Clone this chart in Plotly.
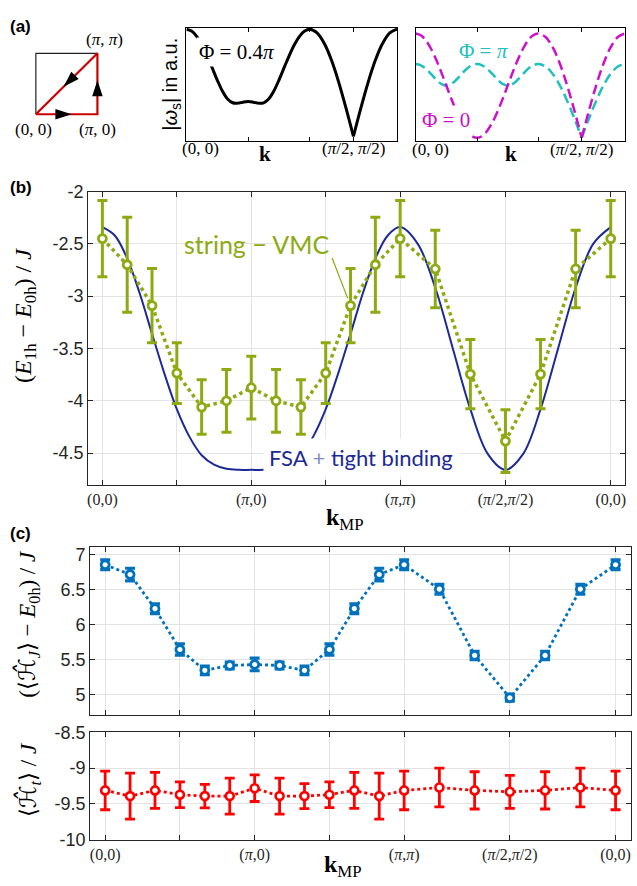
import numpy as np
import plotly.graph_objects as go

# ---------------- data ----------------
# momentum path (units of pi): (0,0)->(pi,0)->(pi,pi)->(pi/2,pi/2)->(0,0)
CURVE_K = ([(j / 12, 0) for j in range(13)] + [(1, j / 12) for j in range(1, 13)]
           + [(1 - j / 12, 1 - j / 12) for j in range(1, 7)]
           + [(0.5 - j / 12, 0.5 - j / 12) for j in range(1, 7)])
MC_K = ([(j / 6, 0) for j in range(7)] + [(1, j / 6) for j in range(1, 7)]
        + [(1 - j / 6, 1 - j / 6) for j in range(1, 4)]
        + [(0.5 - j / 6, 0.5 - j / 6) for j in range(1, 4)])

# panel (a): |omega_s| in a.u.
omega_04pi = [1.902, 1.870, 1.775, 1.626, 1.435, 1.219, 1.000, 0.805, 0.664, 0.597, 0.591, 0.608, 0.618,
              0.608, 0.591, 0.597, 0.664, 0.805, 1.000, 1.219, 1.435, 1.626, 1.775, 1.870, 1.902,
              1.837, 1.647, 1.345, 0.951, 0.492, 0.000,
              0.492, 0.951, 1.345, 1.647, 1.837, 1.902]
omega_0 = [2.000, 1.966, 1.866, 1.707, 1.500, 1.259, 1.000, 0.741, 0.500, 0.293, 0.134, 0.034, 0.000,
           0.034, 0.134, 0.293, 0.500, 0.741, 1.000, 1.259, 1.500, 1.707, 1.866, 1.966, 2.000,
           1.932, 1.732, 1.414, 1.000, 0.518, 0.000,
           0.518, 1.000, 1.414, 1.732, 1.932, 2.000]
omega_pi = [1.414, 1.390, 1.323, 1.225, 1.118, 1.033, 1.000, 1.033, 1.118, 1.225, 1.323, 1.390, 1.414,
            1.390, 1.323, 1.225, 1.118, 1.033, 1.000, 1.033, 1.118, 1.225, 1.323, 1.390, 1.414,
            1.366, 1.225, 1.000, 0.707, 0.366, 0.000,
            0.366, 0.707, 1.000, 1.225, 1.366, 1.414]

# panel (b)
fsa_tb = [-2.34, -2.42, -2.64, -2.97, -3.36, -3.74, -4.08, -4.34, -4.52, -4.61, -4.65, -4.66, -4.66,
          -4.66, -4.65, -4.61, -4.52, -4.34, -4.08, -3.74, -3.36, -2.97, -2.64, -2.42, -2.34,
          -2.50, -2.92, -3.50, -4.08, -4.51, -4.66,
          -4.51, -4.08, -3.50, -2.92, -2.50, -2.34]
vmc_E = [-2.45, -2.70, -3.09, -3.735, -4.06, -4.00, -3.875, -4.00, -4.06, -3.735, -3.09, -2.70, -2.45,
         -2.74, -3.745, -4.385, -3.745, -2.74, -2.45]
vmc_err = [0.365, 0.455, 0.355, 0.29, 0.26, 0.30, 0.30, 0.30, 0.26, 0.29, 0.355, 0.455, 0.365,
           0.37, 0.33, 0.30, 0.33, 0.37, 0.365]

# panel (c)
HJ = [6.86, 6.72, 6.23, 5.645, 5.346, 5.416, 5.43, 5.416, 5.346, 5.645, 6.23, 6.72, 6.86,
      6.51, 5.56, 4.953, 5.56, 6.51, 6.86]
HJ_err = [0.07, 0.09, 0.07, 0.08, 0.06, 0.05, 0.09, 0.05, 0.06, 0.08, 0.07, 0.09, 0.07,
          0.07, 0.06, 0.05, 0.06, 0.07, 0.07]
Ht = [-9.31, -9.39, -9.31, -9.37, -9.39, -9.39, -9.28, -9.39, -9.39, -9.37, -9.31, -9.39, -9.31,
      -9.27, -9.31, -9.33, -9.31, -9.27, -9.31]
Ht_err = [0.27, 0.32, 0.25, 0.18, 0.165, 0.25, 0.185, 0.25, 0.175, 0.18, 0.25, 0.32, 0.27,
          0.27, 0.26, 0.23, 0.26, 0.27, 0.27]

# tick labels
PATH_TICK_TEXT = ["(0,0)", "(<i>π</i>,0)", "(<i>π</i>,<i>π</i>)",
                  "(<i>π</i>/2,<i>π</i>/2)", "(0,0)"]
B_YTICKS = [-4.5, -4, -3.5, -3, -2.5, -2]
B_YTEXT = ["-4.5", "-4", "-3.5", "-3", "-2.5", "-2"]
C1_YTICKS = [5, 5.5, 6, 6.5, 7]
C1_YTEXT = ["5", "5.5", "6", "6.5", "7"]
C2_YTICKS = [-10, -9.5, -9, -8.5]
C2_YTEXT = ["-10", "-9.5", "-9", "-8.5"]

# BZ diagram
SQ_X, SQ_Y = [0, 0, 1], [0, 1, 1]
PATH_X, PATH_Y = [0, 1, 1, 0], [0, 0, 1, 0]
ARROW_X, ARROW_Y, ARROW_ANG = [0.58, 1.0, 0.45], [0.0, 0.56, 0.45], [90, 0, 225]


# ---------------- helpers ----------------
def path_pos(kpts):
    k = np.array(kpts, dtype=float)
    d = np.hypot(np.diff(k[:, 0]), np.diff(k[:, 1]))
    return np.concatenate([[0], np.cumsum(d)])


XC = path_pos(CURVE_K)
XM = path_pos(MC_K)
L = XC[-1]
VERT = [0, 1, 2, 2 + np.sqrt(2) / 2, L]        # labelled ticks
MID = [0.5, 1.5]                                # unlabelled ticks
VERT_A = [0, 1, 2, 2 + np.sqrt(2) / 2, L]
TIP = 30  # index of (pi/2,pi/2) in curve samples

W, H = 637, 886
def PX(x): return x / W
def PY(y): return 1 - y / H
def DX(a, b): return [a / W, b / W]
def DY(top, bot): return [1 - bot / H, 1 - top / H]

SERIF = "Liberation Serif"
SANS = "Liberation Sans"
AX = "#262626"
GRID = "#e3e3e3"
GREEN = "#8DAA12"
NAVY = "#1B2A96"
CBLUE = "#0072BD"
RED = "#FF0000"
MAG = "#CC10CC"
CYAN = "#20C0C0"

fig = go.Figure()

# (a) left: BZ diagram
fig.add_trace(go.Scatter(x=SQ_X, y=SQ_Y, mode="lines", line=dict(color="#222", width=1.2),
                         xaxis="x6", yaxis="y6"))
fig.add_trace(go.Scatter(x=PATH_X, y=PATH_Y, mode="lines", line=dict(color="#CC0000", width=2.2),
                         xaxis="x6", yaxis="y6"))
fig.add_trace(go.Scatter(x=ARROW_X, y=ARROW_Y, mode="markers",
                         marker=dict(symbol="arrow", size=17, angle=ARROW_ANG, color="black",
                                     line=dict(width=0)),
                         xaxis="x6", yaxis="y6", cliponaxis=False))

# (a) middle
for sl in (slice(0, TIP + 1), slice(TIP, None)):
    fig.add_trace(go.Scatter(x=XC[sl], y=omega_04pi[sl], mode="lines",
                             line=dict(color="black", width=3, shape="spline"),
                             xaxis="x4", yaxis="y4"))
# (a) right
for data, col in ((omega_pi, CYAN), (omega_0, MAG)):
    for sl in (slice(0, TIP + 1), slice(TIP, None)):
        fig.add_trace(go.Scatter(x=XC[sl], y=data[sl], mode="lines",
                                 line=dict(color=col, width=2.5, shape="spline", dash="10px,5px"),
                                 xaxis="x5", yaxis="y5"))

# (b)
fig.add_trace(go.Scatter(x=XC, y=fsa_tb, mode="lines", line=dict(color=NAVY, width=2, shape="spline"),
                         xaxis="x", yaxis="y"))
fig.add_trace(go.Scatter(x=XM, y=vmc_E, mode="lines+markers",
                         line=dict(color=GREEN, width=3.5, dash="dot"),
                         marker=dict(symbol="circle", size=8, color="white", line=dict(color=GREEN, width=2.8)),
                         error_y=dict(type="data", array=vmc_err, color=GREEN, thickness=3, width=5),
                         xaxis="x", yaxis="y"))
# (c) upper
fig.add_trace(go.Scatter(x=XM, y=HJ, mode="lines+markers",
                         line=dict(color=CBLUE, width=2.8, dash="dot"),
                         marker=dict(symbol="circle", size=8, color="white", line=dict(color=CBLUE, width=2.8)),
                         error_y=dict(type="data", array=HJ_err, color=CBLUE, thickness=3.2, width=5),
                         xaxis="x2", yaxis="y2"))
# (c) lower
fig.add_trace(go.Scatter(x=XM, y=Ht, mode="lines+markers",
                         line=dict(color=RED, width=2.8, dash="dot"),
                         marker=dict(symbol="circle", size=8, color="white", line=dict(color=RED, width=2.6)),
                         error_y=dict(type="data", array=Ht_err, color=RED, thickness=2.8, width=5),
                         xaxis="x3", yaxis="y3"))


def boxaxis(**kw):
    d = dict(showline=True, linecolor=AX, linewidth=1, mirror="ticks", ticks="inside",
             ticklen=5, tickcolor=AX, zeroline=False, showgrid=True, gridcolor=GRID, gridwidth=1)
    d.update(kw)
    return d


def minor_ticks():
    return dict(tickmode="array", tickvals=MID, ticks="inside", ticklen=5, tickcolor=AX,
                showgrid=True, gridcolor=GRID, gridwidth=1)


tickfont_serif = dict(family=SERIF, size=16, color=AX)
tickfont_sans = dict(family=SANS, size=18, color=AX)

layout = dict(
    width=W, height=H, margin=dict(l=0, r=0, t=0, b=0), paper_bgcolor="white", plot_bgcolor="white",
    showlegend=False,
    # (b)
    xaxis=boxaxis(domain=DX(87.3, 626), range=[-0.0964, L + 0.096], tickvals=VERT, ticktext=PATH_TICK_TEXT,
                  tickfont=tickfont_serif, minor=minor_ticks(), anchor="y"),
    yaxis=boxaxis(domain=DY(185.7, 486), range=[-4.805, -2], tickvals=B_YTICKS, ticktext=B_YTEXT,
                  tickfont=tickfont_sans, anchor="x"),
    # (c) upper
    xaxis2=boxaxis(domain=DX(89.5, 631.5), range=[-0.1, L + 0.1], tickvals=VERT, showticklabels=False,
                   minor=minor_ticks(), anchor="y2"),
    yaxis2=boxaxis(domain=DY(549, 721.7), range=[4.7, 7.12], tickvals=C1_YTICKS, ticktext=C1_YTEXT,
                   tickfont=tickfont_sans, anchor="x2"),
    # (c) lower
    xaxis3=boxaxis(domain=DX(89.5, 631.5), range=[-0.1, L + 0.1], tickvals=VERT, ticktext=PATH_TICK_TEXT,
                   tickfont=tickfont_serif, minor=minor_ticks(), anchor="y3"),
    yaxis3=boxaxis(domain=DY(739, 849), range=[-10, -8.5], tickvals=C2_YTICKS, ticktext=C2_YTEXT,
                   tickfont=tickfont_sans, anchor="x3"),
    # (a) middle
    xaxis4=boxaxis(domain=DX(186, 397.3), range=[0, L], tickvals=VERT_A, showticklabels=False,
                   showgrid=False, linecolor="black", tickcolor="black", ticklen=4, anchor="y4"),
    yaxis4=dict(domain=DY(18, 134), range=[-0.08, 1.93], showline=True, mirror=True, linecolor="black",
                showticklabels=False, ticks="", showgrid=False, zeroline=False, anchor="x4"),
    # (a) right
    xaxis5=boxaxis(domain=DX(416, 626), range=[0, L], tickvals=VERT_A, showticklabels=False,
                   showgrid=False, linecolor="black", tickcolor="black", ticklen=4, anchor="y5"),
    yaxis5=dict(domain=DY(18, 134), range=[-0.061, 2.113], showline=True, mirror=True, linecolor="black",
                showticklabels=False, ticks="", showgrid=False, zeroline=False, anchor="x5"),
    # (a) left diagram
    xaxis6=dict(domain=DX(28.8, 102.9), range=[-0.1, 1.1], visible=False, anchor="y6"),
    yaxis6=dict(domain=DY(38.1, 112.9), range=[-0.1, 1.1], visible=False, anchor="x6"),
)
fig.update_layout(**layout)

ann = []
def A(text, x, y, size=16, family=SERIF, color="black", **kw):
    d = dict(text=text, x=PX(x), y=PY(y), xref="paper", yref="paper", showarrow=False,
             font=dict(family=family, size=size, color=color), xanchor="center", yanchor="middle")
    d.update(kw)
    ann.append(d)

HHAT = "<span style='font-family:DejaVu Sans'><i>ℋ̂</i></span>"

# panel letters
A("<b>(a)</b>", 20, 17, size=17, family=SANS)
A("<b>(b)</b>", 20, 182, size=17, family=SANS)
A("<b>(c)</b>", 20, 536, size=17, family=SANS)

# (a) diagram labels
A("(<i>π</i>, <i>π</i>)", 104, 30, size=17)
A("(0, 0)", 33, 122, size=17)
A("(<i>π</i>, 0)", 97, 122, size=17)

# (a) middle / right labels
A("|<i>ω</i><sub>s</sub>| in a.u.", 171, 76, size=20, family=SANS, textangle=-90)
A("Φ = 0.4<i>π</i>", 236, 43, size=21, bgcolor="white", borderpad=2)
A("(0, 0)", 200, 142, size=17)
A("<b>k</b>", 265, 147, size=21)
A("(<i>π</i>/2, <i>π</i>/2)", 353.3, 142, size=17)
A("Φ = <i>π</i>", 484, 42, size=21, color=CYAN)
A("Φ = 0", 446, 113, size=21, color=MAG, bgcolor="white", borderpad=2)
A("(0, 0)", 431, 143, size=17)
A("<b>k</b>", 512, 147, size=21)
A("(<i>π</i>/2, <i>π</i>/2)", 582, 143, size=17)

# (b) labels
A("(<i>E</i><sub>1h</sub> − <i>E</i><sub>0h</sub>) / <i>J</i>", 24, 312, size=24, textangle=-90)
A("<b>k</b><sub>MP</sub>", 345, 521, size=24)
A("string − VMC", 256, 239, size=25, family="Lato", color=GREEN)
A("FSA <span style='color:#7f8cc8'>+</span> tight binding", 361, 458, size=22, family="Lato",
  color=NAVY, bgcolor="white", borderpad=5)
# connector to string-VMC point
ann.append(dict(x=XM[10], y=vmc_E[10], xref="x", yref="y", ax=-19, ay=-49, axref="pixel", ayref="pixel",
                text="", showarrow=True, arrowhead=0, arrowwidth=1.2, arrowcolor=GREEN, standoff=8))

# (c) labels
A("(⟨" + HHAT + "<sub><i>J</i></sub>⟩ − <i>E</i><sub>0h</sub>) / <i>J</i>", 27, 628, size=23, textangle=-90)
A("⟨" + HHAT + "<sub><i>t</i></sub>⟩ / <i>J</i>", 27, 787, size=23, textangle=-90)
A("<b>k</b><sub>MP</sub>", 343, 876, size=24)

fig.update_layout(annotations=ann)
fig.write_html("out.html")
